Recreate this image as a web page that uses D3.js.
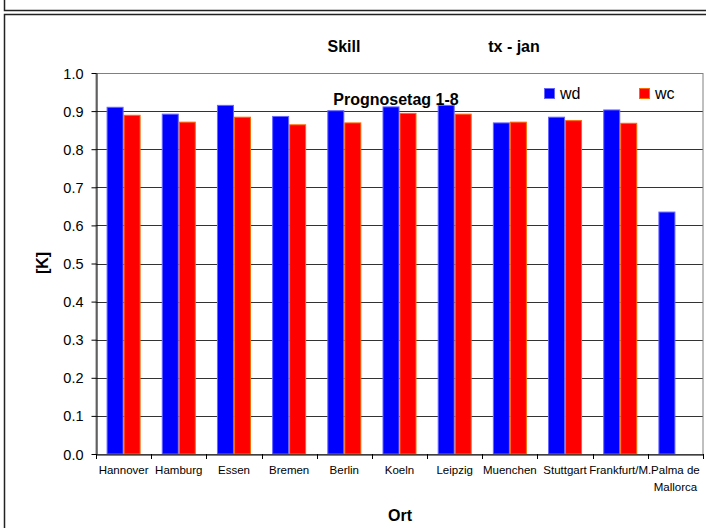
<!DOCTYPE html>
<html><head><meta charset="utf-8">
<script src="https://cdn.jsdelivr.net/npm/d3@7"></script>
<style>body{margin:0;background:#fff;} svg{display:block;font-family:"Liberation Sans",Arial,sans-serif;}</style>
</head><body>
<svg id="c" width="706" height="528"></svg>
<script>
const categories = ["Hannover","Hamburg","Essen","Bremen","Berlin","Koeln","Leipzig","Muenchen","Stuttgart","Frankfurt/M.","Palma de\nMallorca"];
const wd = [0.910,0.892,0.915,0.886,0.901,0.911,0.915,0.869,0.884,0.903,0.635];
const wc = [0.889,0.871,0.884,0.864,0.869,0.894,0.892,0.871,0.875,0.868,null];
const seriesNames = ["wd","wc"];
const yTicks = [0,0.1,0.2,0.3,0.4,0.5,0.6,0.7,0.8,0.9,1.0];

const svg = d3.select("#c");
// outer frames
svg.append("rect").attr("x",4.5).attr("y",-5).attr("width",720).attr("height",15.5).attr("fill","none").attr("stroke","#222").attr("stroke-width",1.5);
svg.append("rect").attr("x",4.5).attr("y",14.5).attr("width",720).attr("height",530).attr("fill","none").attr("stroke","#222").attr("stroke-width",1.5);

const L=96, R=703, T=73, B=454;
const x = d3.scaleBand().domain(categories).range([L,R]).paddingInner(0).paddingOuter(0);
const y = d3.scaleLinear().domain([0,1]).range([B,T]);
const xs = d3.scaleBand().domain(seriesNames).range([0,34]).padding(0);
const offset = (x.bandwidth()-34)/2;

// gridlines
svg.append("g").selectAll("line").data(yTicks.slice(1,-1)).join("line")
  .attr("x1",L).attr("x2",R).attr("y1",d=>Math.round(y(d))+0.5).attr("y2",d=>Math.round(y(d))+0.5)
  .attr("stroke","#333").attr("stroke-width",1);
// plot border
svg.append("rect").attr("x",L).attr("y",Math.round(y(1))+0.5).attr("width",R-L).attr("height",Math.round(y(0))-Math.round(y(1)))
  .attr("fill","none").attr("stroke","#808080");

// bars
const colors = {wd:"#0000ff", wc:"#ff0000"};
const strokes = {wd:"#6666ff", wc:"#ff6a00"};
const data = {wd, wc};
seriesNames.forEach(s=>{
  svg.append("g").selectAll("rect").data(categories.map((c,i)=>({c,v:data[s][i]})).filter(d=>d.v!=null)).join("rect")
    .attr("x",d=>x(d.c)+offset+xs(s)+0.5).attr("width",xs.bandwidth()-1)
    .attr("y",d=>y(d.v)).attr("height",d=>y(0)-y(d.v))
    .attr("fill",colors[s]).attr("stroke",strokes[s]).attr("stroke-width",1);
});

// y axis
const yAxis = svg.append("g").attr("transform",`translate(${L+0.5},0)`)
  .call(d3.axisLeft(y).tickValues(yTicks).tickFormat(d3.format(".1f")).tickSize(5).tickSizeOuter(0));
yAxis.select(".domain").attr("stroke","#000");
yAxis.selectAll("text").attr("font-size",14.5).attr("fill","#000").attr("x",-13).attr("dy","0.35em").attr("font-family","Liberation Sans, Arial, sans-serif");
yAxis.selectAll("line").attr("stroke","#000");

// x axis
const xAxis = svg.append("g").attr("transform",`translate(0,${B+0.5})`)
  .call(d3.axisBottom(x).tickSize(0).tickSizeOuter(0).tickFormat(""));
xAxis.select(".domain").attr("stroke","#000");
const bounds = categories.map(c=>x(c)).concat([R]);
svg.append("g").selectAll("line").data(bounds).join("line")
  .attr("x1",d=>Math.round(d)+0.5).attr("x2",d=>Math.round(d)+0.5).attr("y1",B).attr("y2",B+5).attr("stroke","#000");
const xl = svg.append("g").selectAll("text").data(categories).join("text")
  .attr("x",d=>x(d)+x.bandwidth()/2).attr("y",B+20).attr("text-anchor","middle")
  .attr("font-size",11.5).attr("fill","#000");
xl.each(function(d){
  const lines=d.split("\n");
  lines.forEach((l,i)=>d3.select(this).append("tspan").attr("x",x(d)+x.bandwidth()/2).attr("dy",i?17:0).text(l));
});

// titles
svg.append("text").attr("x",344).attr("y",52).attr("text-anchor","middle").attr("font-weight","bold").attr("font-size",16).text("Skill");
svg.append("text").attr("x",514).attr("y",52).attr("text-anchor","middle").attr("font-weight","bold").attr("font-size",16).text("tx - jan");
svg.append("text").attr("x",396).attr("y",105).attr("text-anchor","middle").attr("font-weight","bold").attr("font-size",16).text("Prognosetag 1-8");
svg.append("text").attr("transform","translate(48,263) rotate(-90)").attr("text-anchor","middle").attr("font-weight","bold").attr("font-size",16).text("[K]");
svg.append("text").attr("x",400).attr("y",521).attr("text-anchor","middle").attr("font-weight","bold").attr("font-size",16).text("Ort");

// legend
const leg = [{n:"wd",x:544},{n:"wc",x:639}];
leg.forEach(l=>{
  svg.append("rect").attr("x",l.x+0.5).attr("y",88.5).attr("width",10).attr("height",10).attr("fill",colors[l.n]).attr("stroke",strokes[l.n]);
  svg.append("text").attr("x",l.x+16).attr("y",99).attr("font-size",16).text(l.n);
});
</script>
</body></html>
